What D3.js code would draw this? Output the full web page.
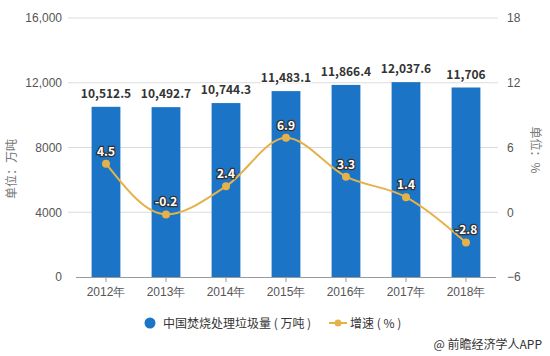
<!DOCTYPE html>
<html><head><meta charset="utf-8">
<script src="https://cdn.jsdelivr.net/npm/d3@7"></script>
<style>
body{margin:0;background:#fff;}
svg{display:block;font-family:"Noto Sans CJK SC","Noto Sans",sans-serif;}
</style></head>
<body>
<svg id="c" width="550" height="356"></svg>
<script>
const years = ["2012年","2013年","2014年","2015年","2016年","2017年","2018年"];
const volume = [10512.5,10492.7,10744.3,11483.1,11866.4,12037.6,11706];
const volumeLabels = ["10,512.5","10,492.7","10,744.3","11,483.1","11,866.4","12,037.6","11,706"];
const growth = [4.5,-0.2,2.4,6.9,3.3,1.4,-2.8];
const leftTicks = [0,4000,8000,12000,16000];
const leftTickLabels = ["0","4000","8000","12,000","16,000"];
const rightTicks = [-6,0,6,12,18];
const seriesNames = ["中国焚烧处理垃圾量 ( 万吨 )","增速 ( % )"];

const svg = d3.select("#c");
const blue = "#1b74c5", gold = "#e5b24a";
const x = d3.scaleBand().domain(years).range([76,496]).paddingInner(0.52).paddingOuter(0.26);
const xc = d => x(d) + x.bandwidth()/2;
const yL = d3.scaleLinear().domain([0,16000]).range([277,18]);
const yR = d3.scaleLinear().domain([-6,18]).range([277,18]);

// gridlines
svg.append("g").selectAll("line").data(leftTicks.slice(1)).join("line")
  .attr("x1",68).attr("x2",498).attr("y1",d=>yL(d)).attr("y2",d=>yL(d))
  .attr("stroke","#dcdcdc").attr("stroke-width",1);

// left axis labels
const gl = svg.append("g").attr("transform","translate(62,0)")
  .call(d3.axisLeft(yL).tickValues(leftTicks).tickFormat((d,i)=>leftTickLabels[i]).tickSize(0).tickPadding(0));
gl.select(".domain").remove();
gl.selectAll("text").attr("fill","#555").attr("font-size",12).style("font-family","inherit");

// right axis labels
const gr = svg.append("g").attr("transform","translate(507,0)")
  .call(d3.axisRight(yR).tickValues(rightTicks).tickSize(0).tickPadding(0));
gr.select(".domain").remove();
gr.selectAll("text").attr("fill","#555").attr("font-size",12).style("font-family","inherit");

// bars
svg.append("g").selectAll("rect").data(volume).join("rect")
  .attr("x",(d,i)=>x(years[i])).attr("width",x.bandwidth())
  .attr("y",d=>yL(d)).attr("height",d=>yL(0)-yL(d)).attr("fill",blue);

// x axis
const gx = svg.append("g").attr("transform","translate(0,277)")
  .call(d3.axisBottom(x).tickSizeOuter(0).tickSizeInner(5).tickPadding(5));
gx.select(".domain").attr("stroke","#999").attr("d","M76,0.5H496");
gx.selectAll(".tick line").attr("stroke","#999");
gx.selectAll("text").attr("fill","#555").attr("font-size",12).style("font-family","inherit");

// bar labels
svg.append("g").selectAll("text").data(volume).join("text")
  .attr("x",(d,i)=>xc(years[i])).attr("y",d=>yL(d)-9)
  .attr("text-anchor","middle").attr("font-size",12).attr("font-weight","bold")
  .attr("fill","#333").attr("stroke","#fff").attr("stroke-width",2).attr("paint-order","stroke")
  .text((d,i)=>volumeLabels[i]);

// line
const line = d3.line().x((d,i)=>xc(years[i])).y(d=>yR(d)).curve(d3.curveMonotoneX);
svg.append("path").datum(growth).attr("d",line).attr("fill","none").attr("stroke",gold).attr("stroke-width",2);
svg.append("g").selectAll("circle").data(growth).join("circle")
  .attr("cx",(d,i)=>xc(years[i])).attr("cy",d=>yR(d)).attr("r",4).attr("fill",gold);
svg.append("g").selectAll("text").data(growth).join("text")
  .attr("x",(d,i)=>xc(years[i])).attr("y",d=>yR(d)-8)
  .attr("text-anchor","middle").attr("font-size",12).attr("font-weight","bold")
  .attr("fill","#fff").attr("stroke","#333").attr("stroke-width",2.5).attr("paint-order","stroke")
  .text(d=>d);

// axis titles
svg.append("text").attr("transform","translate(16,169) rotate(-90)").attr("text-anchor","middle")
  .attr("font-size",12).attr("fill","#777").text("单位：万吨");
svg.append("text").attr("transform","translate(531,150) rotate(90)").attr("text-anchor","middle")
  .attr("font-size",12).attr("fill","#777").text("单位：%");

// legend
const lg = svg.append("g");
lg.append("circle").attr("cx",150).attr("cy",323).attr("r",5.5).attr("fill",blue);
lg.append("text").attr("x",163).attr("y",327.5).attr("font-size",12).attr("fill","#333").text(seriesNames[0]);
lg.append("line").attr("x1",329).attr("x2",347).attr("y1",323).attr("y2",323).attr("stroke",gold).attr("stroke-width",2);
lg.append("circle").attr("cx",338).attr("cy",323).attr("r",3.5).attr("fill",gold);
lg.append("text").attr("x",350).attr("y",327.5).attr("font-size",12).attr("fill","#333").text(seriesNames[1]);

// footer
svg.append("text").attr("x",542).attr("y",349).attr("text-anchor","end").attr("font-size",12)
  .attr("fill","#333").text("@ 前瞻经济学人APP");
</script>
</body></html>
